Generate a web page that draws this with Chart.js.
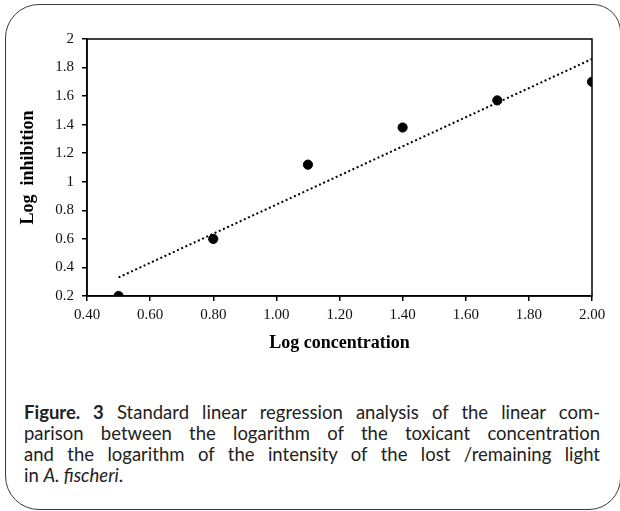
<!DOCTYPE html>
<html>
<head>
<meta charset="utf-8">
<script src="https://cdn.jsdelivr.net/npm/chart.js"></script>
<style>
  html, body { margin: 0; padding: 0; background: #fff; }
  body { width: 620px; height: 511px; position: relative; overflow: hidden; }
  .frame {
    position: absolute; left: 5px; top: 4px; width: 616px; height: 506px;
    box-sizing: border-box; border: 1.5px solid #3c3c3c;
    border-radius: 34px 28px 32px 34px;
  }
  .chart-box { position: absolute; left: 0; top: 0; width: 620px; height: 360px; }
  .caption {
    position: absolute; left: 24px; top: 402px; width: 576px;
    font-family: Lato, "Open Sans", sans-serif; font-size: 18.5px; line-height: 21px; color: #222;
  }
  .caption div { text-align: justify; text-align-last: justify; white-space: nowrap; }
  .caption div.last { text-align-last: left; }
</style>
</head>
<body>
<div class="frame"></div>
<div class="chart-box"><canvas id="regressionChart"></canvas></div>
<div class="caption">
  <div><b>Figure. 3</b> Standard linear regression analysis of the linear com-</div>
  <div>parison between the logarithm of the toxicant concentration</div>
  <div>and the logarithm of the intensity of the lost /remaining light</div>
  <div class="last">in <i>A. fischeri</i>.</div>
</div>
<script>
const logConcentration = [0.5, 0.8, 1.1, 1.4, 1.7, 2.0];
const logInhibition = [0.2, 0.6, 1.12, 1.38, 1.57, 1.70];

// trend line ends
const trendX = [0.5, 2.0];
const trendY = [0.33, 1.86];

const xTicks = [0.4, 0.6, 0.8, 1.0, 1.2, 1.4, 1.6, 1.8, 2.0];
const yTicks = [0.2, 0.4, 0.6, 0.8, 1, 1.2, 1.4, 1.6, 1.8, 2];

const serif = "'Liberation Serif', 'Times New Roman', serif";

// box around the plot area (top and right sides)
const plotFrame = {
  id: "plotFrame",
  afterDraw(chart) {
    const { ctx, chartArea } = chart;
    ctx.save();
    ctx.strokeStyle = "#000";
    ctx.lineWidth = 1.5;
    ctx.strokeRect(chartArea.left, chartArea.top, chartArea.right - chartArea.left, chartArea.bottom - chartArea.top);
    ctx.restore();
  }
};

const ctx = document.getElementById("regressionChart").getContext("2d");

new Chart(ctx, {
  type: "scatter",
  data: {
    datasets: [
      {
        label: "Trend",
        type: "line",
        data: trendX.map((x, i) => ({ x: x, y: trendY[i] })),
        borderColor: "#000",
        borderWidth: 2,
        borderDash: [2, 2.6],
        pointRadius: 0,
        fill: false
      },
      {
        label: "Log inhibition",
        data: logConcentration.map((x, i) => ({ x: x, y: logInhibition[i] })),
        backgroundColor: "#000",
        borderColor: "#000",
        pointRadius: 4.6,
        pointHoverRadius: 4.6
      }
    ]
  },
  options: {
    responsive: true,
    maintainAspectRatio: false,
    animation: false,
    layout: {
      padding: { left: 0, top: 39, right: 28, bottom: 0 }
    },
    plugins: {
      legend: { display: false },
      tooltip: { enabled: false }
    },
    scales: {
      x: {
        type: "linear",
        min: 0.4,
        max: 2.0,
        afterBuildTicks: scale => { scale.ticks = xTicks.map(v => ({ value: v })); },
        afterFit: scale => { scale.height = 64; },
        grid: { drawOnChartArea: false, drawTicks: true, tickLength: 5, color: "#000", lineWidth: 1.5 },
        border: { display: true, color: "#000", width: 1.5 },
        ticks: {
          color: "#111",
          padding: 5,
          maxRotation: 0,
          font: { family: serif, size: 15 },
          callback: v => Number(v).toFixed(2)
        },
        title: {
          display: true,
          text: "Log concentration",
          color: "#000",
          font: { family: serif, size: 18, weight: "bold" },
          padding: { top: 0, bottom: 6 }
        }
      },
      y: {
        type: "linear",
        min: 0.2,
        max: 2,
        afterBuildTicks: scale => { scale.ticks = yTicks.map(v => ({ value: v })); },
        afterFit: scale => { scale.width = 87; },
        grid: { drawOnChartArea: false, drawTicks: true, tickLength: 5, color: "#000", lineWidth: 1.5 },
        border: { display: true, color: "#000", width: 1.5 },
        ticks: {
          color: "#111",
          padding: 8,
          font: { family: serif, size: 15 },
          callback: v => String(Math.round(v * 10) / 10)
        },
        title: {
          display: true,
          text: "Log  inhibition",
          color: "#000",
          font: { family: serif, size: 18, weight: "bold" },
          padding: { top: 18, bottom: 0 }
        }
      }
    }
  },
  plugins: [plotFrame]
});
</script>
</body>
</html>
